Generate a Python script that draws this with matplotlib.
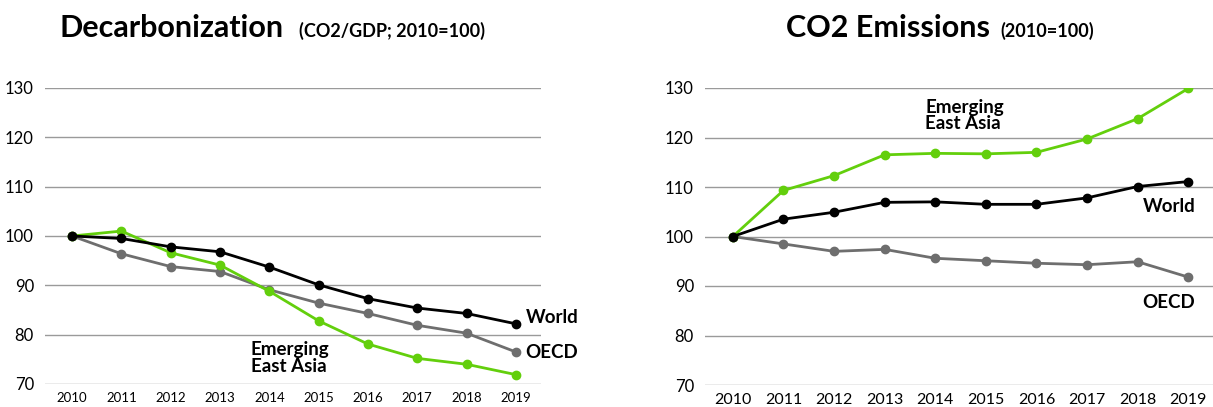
import matplotlib
matplotlib.use("Agg")
import matplotlib.pyplot as plt

plt.rcParams["font.family"] = ["Lato", "DejaVu Sans"]

years = list(range(2010, 2020))

# Decarbonization (CO2/GDP; 2010=100)
dec_world = [100, 99.5, 97.8, 96.8, 93.7, 90.1, 87.3, 85.4, 84.3, 82.2]
dec_oecd = [100, 96.4, 93.8, 92.8, 89.1, 86.4, 84.3, 81.9, 80.3, 76.5]
dec_eea = [100, 101.0, 96.6, 94.1, 88.8, 82.8, 78.1, 75.2, 74.0, 71.9]

# CO2 Emissions (2010=100)
co2_world = [100, 103.5, 104.9, 106.9, 107.0, 106.5, 106.5, 107.8, 110.1, 111.1]
co2_oecd = [100, 98.5, 97.0, 97.4, 95.6, 95.1, 94.6, 94.3, 94.9, 91.8]
co2_eea = [100, 109.3, 112.3, 116.5, 116.8, 116.7, 117.0, 119.7, 123.8, 129.9]

yticks = [70, 80, 90, 100, 110, 120, 130]

GREEN = "#63cf0c"
GREY = "#6e6e6e"
BLACK = "#000000"

fig = plt.figure(figsize=(12.13, 4.07), dpi=100)
ax1 = fig.add_axes([45 / 1213, 23 / 407, 496 / 1213, 296 / 407])
ax2 = fig.add_axes([705 / 1213, 22 / 407, 508 / 1213, 297 / 407])


def style(ax, xsize, ysize, right):
    ax.set_ylim(70, 130)
    ax.set_xlim(2009.45, right)
    ax.set_yticks(yticks)
    ax.set_xticks(years)
    ax.grid(axis="y", color="#9a9a9a", linewidth=1)
    ax.set_axisbelow(True)
    for s in ax.spines.values():
        s.set_visible(False)
    ax.tick_params(length=0)
    ax.tick_params(axis="x", labelsize=xsize, pad=6)
    ax.tick_params(axis="y", labelsize=ysize, pad=8)


for ax, w, o, e in [(ax1, dec_world, dec_oecd, dec_eea),
                    (ax2, co2_world, co2_oecd, co2_eea)]:
    ax.plot(years, o, color=GREY, lw=2, marker="o", ms=6)
    ax.plot(years, e, color=GREEN, lw=2, marker="o", ms=6)
    ax.plot(years, w, color=BLACK, lw=2, marker="o", ms=6)

style(ax1, 9.5, 12, 2019.51)
style(ax2, 11.5, 12, 2019.49)

lab = dict(fontsize=13.5, fontweight="bold", color="black")
ax1.text(2019.2, 83.4, "World", ha="left", va="center", **lab)
ax1.text(2019.2, 76.4, "OECD", ha="left", va="center", **lab)
ax1.text(2013.62, 75.3, "Emerging\nEast Asia", ha="left", va="center",
         linespacing=0.95, **lab)
ax2.text(2013.8, 124.5, "Emerging\nEast Asia", ha="left", va="center",
         linespacing=0.95, **lab)
ax2.text(2018.1, 106.1, "World", ha="left", va="center", **lab)
ax2.text(2018.1, 86.6, "OECD", ha="left", va="center", **lab)

fig.text(60 / 1213, 1 - 37 / 407, "Decarbonization", fontsize=22,
         fontweight="bold", ha="left", va="baseline")
fig.text(299 / 1213, 1 - 37 / 407, "(CO2/GDP; 2010=100)", fontsize=13,
         fontweight="bold", ha="left", va="baseline")
fig.text(786 / 1213, 1 - 37 / 407, "CO2 Emissions", fontsize=22,
         fontweight="bold", ha="left", va="baseline")
fig.text(1000 / 1213, 1 - 37 / 407, "(2010=100)", fontsize=13,
         fontweight="bold", ha="left", va="baseline")

fig.savefig("out.png", dpi=100)
